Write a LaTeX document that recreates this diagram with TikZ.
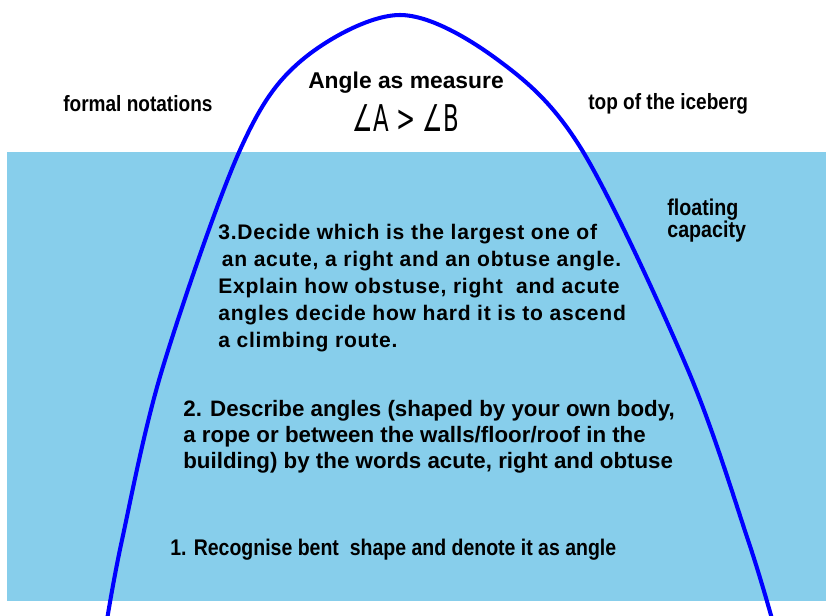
\documentclass[tikz,border=0pt]{standalone}
\usepackage{fontspec}
\setmainfont{Liberation Sans}
\newfontfamily\narrowfont[FakeStretch=0.86]{Liberation Sans}
\newfontfamily\spacedfont[LetterSpace=3.5]{Liberation Sans}
\newfontfamily\symbfont[FakeStretch=0.62]{DejaVu Sans}
\usetikzlibrary{positioning}

\definecolor{seablue}{RGB}{135,206,235}
\definecolor{icebergblue}{RGB}{0,0,255}

\begin{document}
\begin{tikzpicture}[
    x=0.02cm, y=-0.02cm,
    water/.style={
        fill=seablue,
        draw=none
    },
    iceline/.style={
        draw=icebergblue,
        line width=2.3pt,
        line join=round
    },
    sidelabel/.style={
        inner sep=0pt,
        anchor=west,
        font=\narrowfont\bfseries\fontsize{12.6}{14}\selectfont
    },
    steptext/.style={
        inner sep=0pt,
        anchor=north west,
        align=left,
        font=\spacedfont\bfseries\fontsize{12}{15.3}\selectfont
    }
]

    % Frame
    \useasboundingbox (0,0) rectangle (826,616);

    % Water
    \fill[water] (7,152) rectangle (826,601);

    % Iceberg outline
    \draw[iceline] plot[smooth, tension=0.55] coordinates {
        (106,626) (122,540) (162,370) (240,150) (302,60) (400,15)
        (498,60) (582,150) (688,370) (748,540) (774,626)};

    % Top of the iceberg
    \node[sidelabel] (formal) at (63,104) {formal notations};
    \node[sidelabel] (top) at (588,104) {top of the iceberg};
    \node[inner sep=0pt, font=\bfseries\fontsize{13}{14}\selectfont] (measure) at (406,83) {Angle as measure};
    \node[inner sep=0pt, font=\symbfont\fontsize{21}{24}\selectfont, below=6pt of measure] (notation) {∠A > ∠B};

    % Under the water
    \node[sidelabel, anchor=north west, align=left, font=\narrowfont\bfseries\fontsize{13}{12.5}\selectfont] (floating) at (667,199) {floating\\capacity};
    \node[steptext] (stepthree) at (218,224) {3.Decide which is the largest one of\\
        \hspace{2pt}an acute, a right and an obtuse angle.\\
        Explain how obstuse, right\ \ and acute\\
        angles decide how hard it is to ascend\\
        a climbing route.};
    \node[steptext, font=\bfseries\fontsize{12.7}{14.8}\selectfont] (steptwo) at (183,400) {2. Describe angles (shaped by your own body,\\
        a rope or between the walls/floor/roof in the\\
        building) by the words acute, right and obtuse};
    \node[sidelabel, font=\narrowfont\bfseries\fontsize{12.9}{14}\selectfont] (stepone) at (170,550) {1. Recognise bent\ \ shape and denote it as angle};

\end{tikzpicture}
\end{document}
